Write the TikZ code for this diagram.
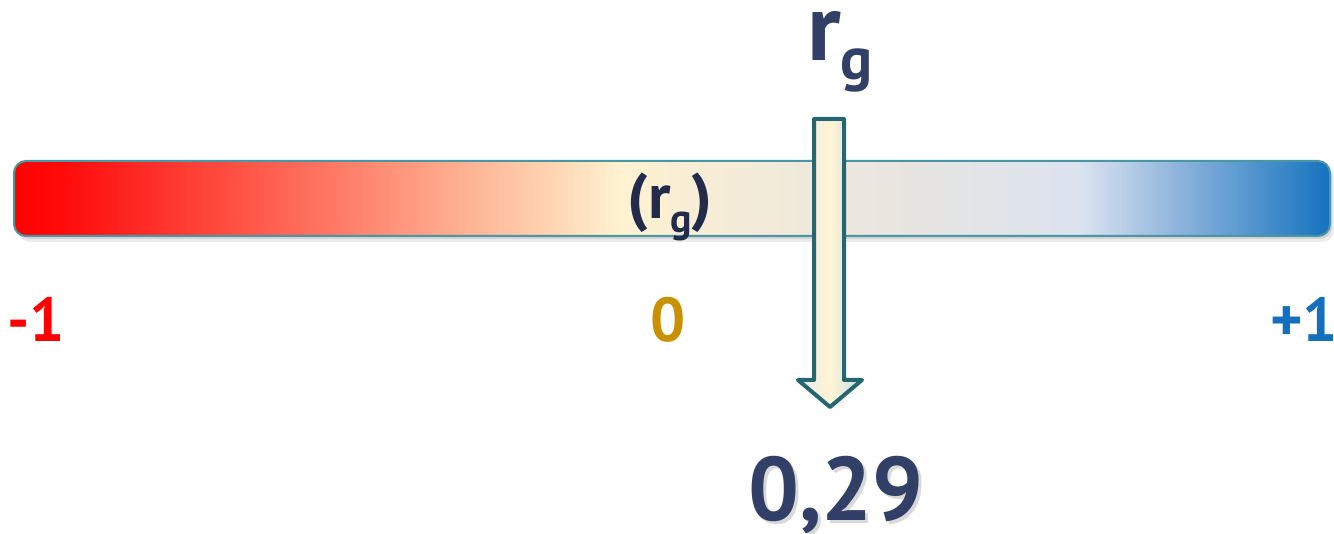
\documentclass[tikz,border=0pt]{standalone}
\usepackage{fontspec}
\setmainfont{PT Sans}
\usepackage{tikz}
\usetikzlibrary{positioning}
\definecolor{navy}{RGB}{50,64,104}
\definecolor{ink}{RGB}{34,44,74}
\definecolor{teal}{RGB}{38,102,115}
\definecolor{rim}{RGB}{74,150,165}
\definecolor{minus}{RGB}{255,0,0}
\definecolor{zero}{RGB}{200,145,0}
\definecolor{plus}{RGB}{20,112,190}
\definecolor{shaftl}{RGB}{228,236,236}
\definecolor{shaftm}{RGB}{255,244,212}
\definecolor{shaftr}{RGB}{200,222,232}
\pgfdeclarehorizontalshading{corrbar}{100bp}{rgb(0bp)=(1,0,0); rgb(25bp)=(1,0,0); rgb(26.8bp)=(1,0.04,0.04);
  rgb(35.9bp)=(1,0.42,0.35); rgb(42.7bp)=(1,0.72,0.6); rgb(45.8bp)=(1,0.85,0.72); rgb(48bp)=(1,0.95,0.82);
  rgb(51.1bp)=(0.97,0.93,0.84); rgb(58.7bp)=(0.91,0.9,0.88); rgb(65.5bp)=(0.86,0.89,0.94);
  rgb(69.3bp)=(0.55,0.7,0.86); rgb(75bp)=(0.08,0.45,0.75); rgb(100bp)=(0.08,0.45,0.75)}
\tikzset{lbl/.style={anchor=base,inner sep=0pt,font=\bfseries\fontsize{62}{64}\selectfont},
  big/.style={anchor=base,inner sep=0pt,font=\bfseries\fontsize{90}{94}\selectfont}}
\newcommand{\rsubg}[3]{{\fontsize{#1}{#1}\selectfont r}{\fontsize{#2}{#2}\selectfont\raisebox{-#3pt}{g}}}

\begin{document}
\begin{tikzpicture}[x=1pt,y=-1pt,line join=round]
\useasboundingbox (0,0) rectangle (1334,534);
% --- correlation bar
\fill[black,opacity=0.08,rounded corners=12] (18,166) rectangle (1334,242);
\fill[black,opacity=0.10,rounded corners=12] (17,164) rectangle (1332,239);
\draw[rim,line width=2,rounded corners=12,shading=corrbar] (14,161) rectangle (1330,236);
\node[ink,anchor=base,inner sep=0pt,font=\bfseries\fontsize{64}{66}\selectfont] (inbar) at (670,219) {(\rsubg{64}{40}{14})};
% --- end labels
\node[lbl,minus] (lo) at (36,342) {-1};
\node[lbl,zero] (mid) at (668,342) {0};
\node[lbl,plus] (hi) at (1304,342) {+1};
% --- arrow
\draw[teal,line width=4,left color=shaftl,right color=shaftr,middle color=shaftm]
  (814,119) -- (844,119) -- (844,380) -- (862,380) -- (830,407) -- (798,380) -- (814,380) -- cycle;
\node[navy,anchor=base,inner sep=0pt,font=\bfseries] (top) at (840,61) {\rsubg{96}{60}{19}};
\node[big,black!25,opacity=0.6] (shade) at (839,523) {0,29};
\node[big,navy] (val) at (836,520) {0,29};
\end{tikzpicture}
\end{document}
